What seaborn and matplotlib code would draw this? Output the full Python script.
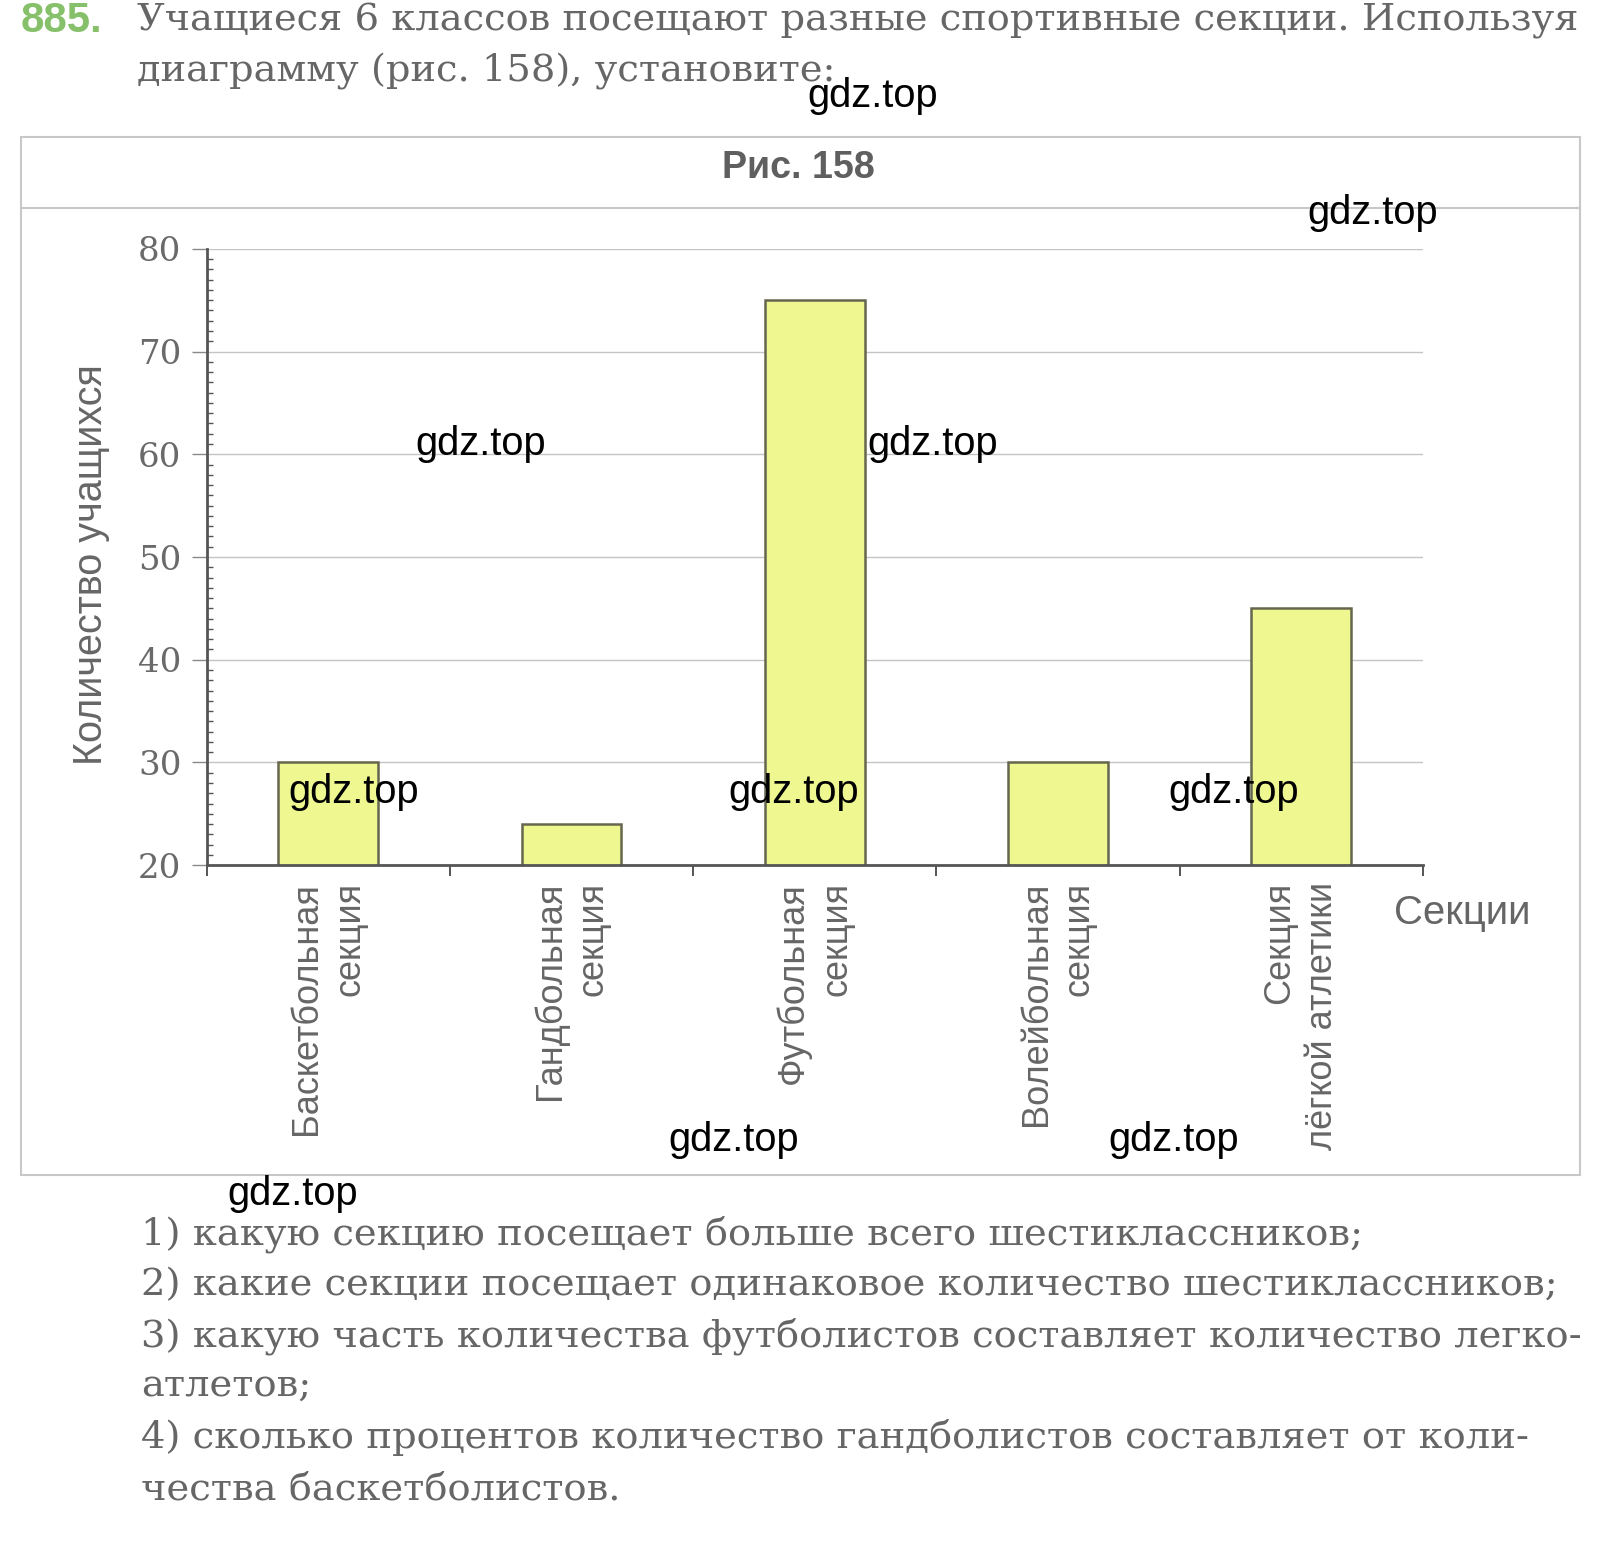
import matplotlib
matplotlib.use('Agg')
import matplotlib.pyplot as plt
import seaborn as sns
import pandas as pd
from matplotlib.ticker import MultipleLocator, FixedLocator
from matplotlib.patches import Rectangle
from matplotlib.lines import Line2D

# ---- data ----
categories = ["Баскетбольная\nсекция", "Гандбольная\nсекция", "Футбольная\nсекция",
              "Волейбольная\nсекция", "Секция\nлёгкой атлетики"]
students = [30, 24, 75, 30, 45]
y_ticks = [20, 30, 40, 50, 60, 70, 80]

header_num = "885."
header_lines = ["Учащиеся 6 классов посещают разные спортивные секции. Используя",
                "диаграмму (рис. 158), установите:"]
question_lines = ["1) какую секцию посещает больше всего шестиклассников;",
                  "2) какие секции посещает одинаковое количество шестиклассников;",
                  "3) какую часть количества футболистов составляет количество легко-",
                  "атлетов;",
                  "4) сколько процентов количество гандболистов составляет от коли-",
                  "чества баскетболистов."]
watermark = "gdz.top"

W, H = 1619, 1564
sns.set_style('white')
plt.rcParams['font.family'] = ['Liberation Sans', 'DejaVu Sans']

fig = plt.figure(figsize=(W / 100, H / 100), dpi=100)
fig.patch.set_facecolor('white')


def fx(x):
    return x / W


def fy(y):
    return 1 - y / H


renderer = fig.canvas.get_renderer()


def fit_text(x, y, s, target_w, size0=20, **kw):
    t = fig.text(fx(x), fy(y), s, fontsize=size0, **kw)
    w = t.get_window_extent(renderer).width
    t.set_fontsize(size0 * target_w / w)
    return t


# ---- panel frame ----
fig.add_artist(Rectangle((fx(21), fy(1175)), fx(1580) - fx(21), fy(137) - fy(1175),
                         transform=fig.transFigure, fill=False, edgecolor='#c8c8c8', lw=1.5))
fig.add_artist(Line2D([fx(21), fx(1580)], [fy(208), fy(208)], transform=fig.transFigure,
                      color='#c8c8c8', lw=1.5))

# ---- axes ----
ax = fig.add_axes([fx(206.5), fy(865.2), fx(1422.8) - fx(206.5), fy(248.8) - fy(865.2)])
df = pd.DataFrame({'cat': categories, 'val': students})
sns.barplot(data=df, x='cat', y='val', ax=ax, color='#eef790', edgecolor='#66664e',
            linewidth=1.8, width=0.41, saturation=1)
ax.set_axisbelow(True)
ax.set_ylim(20, 80)
ax.set_xlim(-0.5, 4.5)

ax.set_yticks(y_ticks)
ax.set_yticklabels([str(v) for v in y_ticks], fontfamily='DejaVu Serif', fontsize=24.5,
                   color='#6a6a6a')
ax.tick_params(axis='y', which='major', direction='out', length=11, width=1,
               color='#8a8a8a', pad=7, left=True)
ax.yaxis.set_minor_locator(MultipleLocator(1))
ax.tick_params(axis='y', which='minor', direction='in', length=4, width=1,
               color='#555555', left=True)
ax.grid(axis='y', which='major', color='#c4c4c4', lw=1)

ax.set_xticks(range(len(categories)))
ax.set_xticklabels(categories, rotation=90, fontsize=26, color='#666666',
                   linespacing=1.3, multialignment='right')
ax.tick_params(axis='x', which='major', length=0, pad=12)
ax.xaxis.set_minor_locator(FixedLocator([i - 0.5 for i in range(len(categories) + 1)]))
ax.tick_params(axis='x', which='minor', direction='out', length=8, width=1.4,
               color='#555555', bottom=True)

for s in ['top', 'right']:
    ax.spines[s].set_visible(False)
for s in ['left', 'bottom']:
    ax.spines[s].set_color('#555555')
    ax.spines[s].set_linewidth(2)

ax.set_xlabel('')
ax.set_ylabel('Количество учащихся', fontsize=28.5, color='#666666', va='center')
ax.yaxis.set_label_coords((91 - 206.5) / 1216.3, (865.2 - 565) / 616.4)

fit_text(1394, 913, 'Секции', 136, color='#666666', ha='left', va='center')

# ---- title ----
fit_text(798, 168, 'Рис. 158', 153, color='#5f5f5f', ha='center', va='center',
         fontweight='bold')

# ---- header ----
fit_text(21, 21, header_num, 82, color='#86c06a', ha='left', va='center', fontweight='bold')
h1 = fit_text(137, 21, header_lines[0], 1441, color='#666666', ha='left', va='center',
              family='DejaVu Serif')
hs = h1.get_fontsize()
fig.text(fx(137), fy(72), header_lines[1], fontsize=hs, color='#666666', ha='left',
         va='center', family='DejaVu Serif')

# ---- questions ----
q_y = [1234, 1285, 1336, 1386, 1437, 1489]
q1 = fit_text(141, q_y[0], question_lines[0], 1222, color='#666666', ha='left',
              va='center', family='DejaVu Serif')
qs = q1.get_fontsize()
for line, y in zip(question_lines[1:], q_y[1:]):
    fig.text(fx(141), fy(y), line, fontsize=qs, color='#666666', ha='left', va='center',
             family='DejaVu Serif')

# ---- watermarks ----
wm_pos = [(807, 96), (1307, 213), (415, 444), (867, 444), (288, 792), (728, 792),
          (1168, 792), (668, 1140), (1108, 1140), (227, 1194)]
for x, y in wm_pos:
    fit_text(x, y, watermark, 130, color='black', ha='left', va='center', zorder=10)

fig.savefig('out.png', dpi=100)
